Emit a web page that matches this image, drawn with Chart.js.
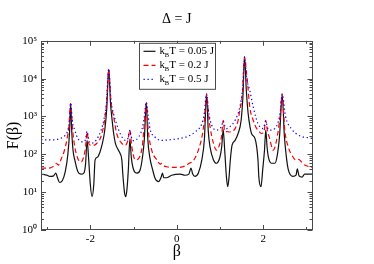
<!DOCTYPE html>
<html>
<head>
    <title>F(beta)</title>
    <script src="https://cdn.jsdelivr.net/npm/chart.js"></script>
    <style>
        html, body { margin: 0; padding: 0; background: #fff; }
        #wrap { width: 374px; height: 264px; }
    </style>
</head>
<body>
    <div id="wrap"><canvas id="fbeta"></canvas></div>

    <script>
        // Values
        var betaBlack = [-3.14, -3.00, -2.94, -2.85, -2.80, -2.76, -2.71, -2.65, -2.58, -2.52,
            -2.48, -2.455, -2.43, -2.40, -2.36, -2.29, -2.22, -2.15, -2.11, -2.075,
            -2.04, -2.00, -1.96, -1.92, -1.89, -1.83, -1.78, -1.73, -1.67, -1.62,
            -1.575, -1.53, -1.50, -1.46, -1.42, -1.35, -1.31, -1.27, -1.25, -1.21,
            -1.18, -1.15, -1.12, -1.085, -1.05, -0.98, -0.92, -0.85, -0.79, -0.75,
            -0.705, -0.67, -0.62, -0.56, -0.50, -0.42, -0.36, -0.33, -0.30, -0.24,
            -0.12, 0.08, 0.19, 0.28, 0.33, 0.37, 0.42, 0.50, 0.58, 0.64,
            0.69, 0.73, 0.77, 0.85, 0.92, 1.00, 1.04, 1.075, 1.11, 1.15,
            1.18, 1.21, 1.24, 1.28, 1.35, 1.42, 1.49, 1.53, 1.57, 1.61,
            1.65, 1.70, 1.73, 1.81, 1.85, 1.88, 1.90, 1.95, 1.99, 2.03,
            2.06, 2.09, 2.12, 2.19, 2.27, 2.33, 2.38, 2.44, 2.49, 2.53,
            2.58, 2.69, 2.76, 2.79, 2.83, 2.90, 2.96, 3.14];
        var fBlack = [30, 28, 26, 27, 32, 24, 18, 20, 35, 100,
            400, 2200, 400, 126, 71, 35, 30, 32, 56, 234,
            79, 16, 7.6, 16, 71, 85, 112, 178, 400, 1580,
            17400, 2000, 890, 355, 195, 129, 105, 71, 32, 10,
            7.6, 12.6, 40, 251, 79, 35, 32, 38, 89, 251,
            2290, 251, 79, 40, 23, 19, 25, 32, 24, 24,
            28, 30, 28, 30, 43, 30, 26, 32, 71, 251,
            3800, 400, 158, 71, 58, 85, 158, 447, 126, 25,
            14, 25, 71, 174, 234, 355, 794, 3160, 37000, 5000,
            1260, 500, 355, 263, 158, 71, 25, 14, 40, 126,
            437, 158, 85, 58, 58, 100, 316, 3800, 316, 100,
            40, 26, 28, 41, 27, 25, 30, 30];

        var betaRed = [-3.14, -3.00, -2.90, -2.84, -2.79, -2.74, -2.67, -2.60, -2.56, -2.50,
            -2.455, -2.41, -2.36, -2.29, -2.21, -2.15, -2.11, -2.075, -2.04, -2.00,
            -1.91, -1.84, -1.79, -1.72, -1.67, -1.62, -1.575, -1.53, -1.50, -1.46,
            -1.39, -1.27, -1.19, -1.13, -1.085, -1.04, -0.96, -0.88, -0.80, -0.75,
            -0.705, -0.66, -0.58, -0.46, -0.38, -0.35, -0.30, -0.23, 0.00, 0.19,
            0.30, 0.35, 0.42, 0.50, 0.58, 0.64, 0.69, 0.74, 0.77, 0.85,
            0.92, 1.00, 1.04, 1.075, 1.11, 1.15, 1.23, 1.35, 1.42, 1.46,
            1.52, 1.57, 1.61, 1.64, 1.69, 1.77, 1.84, 1.88, 1.96, 2.02,
            2.06, 2.10, 2.14, 2.23, 2.31, 2.39, 2.44, 2.50, 2.58, 2.69,
            2.76, 2.81, 2.96, 3.14];
        var fRed = [43, 43, 45, 50, 58, 52, 78, 126, 195, 500,
            2200, 447, 158, 78, 63, 89, 158, 389, 200, 174,
            174, 200, 234, 400, 794, 2500, 17400, 3160, 1580, 977,
            355, 195, 174, 234, 437, 158, 71, 78, 158, 631,
            2290, 437, 129, 71, 55, 58, 50, 47, 45, 49,
            59, 63, 79, 129, 282, 794, 3800, 1000, 537, 195,
            129, 195, 316, 794, 400, 400, 389, 479, 794, 1480,
            3980, 37000, 15800, 7400, 1780, 794, 500, 437, 355, 400,
            794, 400, 288, 129, 234, 977, 3800, 437, 158, 85,
            71, 74, 52, 45];

        var betaBlue = [-3.14, -3.00, -2.85, -2.70, -2.60, -2.52, -2.48, -2.455, -2.42, -2.36,
            -2.29, -2.17, -2.11, -2.075, -2.04, -1.98, -1.87, -1.75, -1.68, -1.63,
            -1.575, -1.52, -1.47, -1.42, -1.31, -1.19, -1.13, -1.085, -1.05, -1.00,
            -0.88, -0.80, -0.75, -0.705, -0.66, -0.62, -0.50, -0.35, -0.12, 0.08,
            0.27, 0.42, 0.58, 0.64, 0.69, 0.74, 0.81, 0.92, 1.00, 1.04,
            1.075, 1.11, 1.15, 1.23, 1.35, 1.46, 1.52, 1.57, 1.62, 1.69,
            1.77, 1.88, 2.00, 2.06, 2.10, 2.16, 2.27, 2.39, 2.44, 2.52,
            2.65, 2.81, 3.14];
        var fBlue = [245, 240, 240, 263, 302, 437, 794, 2290, 794, 437,
            263, 214, 251, 407, 251, 195, 234, 437, 891, 2000,
            18200, 2500, 1260, 794, 355, 234, 263, 437, 282, 229,
            288, 479, 1000, 2400, 1000, 479, 282, 234, 245, 263,
            302, 389, 646, 1260, 3980, 1260, 589, 437, 479, 562,
            759, 562, 479, 537, 794, 1780, 5000, 38000, 10000, 4900,
            1780, 646, 479, 759, 501, 437, 479, 1200, 3980, 977,
            479, 324, 263];

        var tempLabels = ['0.05 J', '0.2 J', '0.5 J'];
        var xTicks = [-2, 0, 2];
        var xMinorTicks = [-3, -1, 1, 3];
        var yTicks = [1, 10, 100, 1000, 10000, 100000];
        var yTickLabels = ['10\u2070', '10\u00b9', '10\u00b2', '10\u00b3', '10\u2074', '10\u2075'];

        var serif = 'Liberation Serif';

        function points(xs, ys) {
            return xs.map(function (b, i) { return { x: b, y: ys[i] }; });
        }

        // frame with inward ticks on all four sides (xmgrace style)
        var frameTicks = {
            id: 'frameTicks',
            afterDatasetsDraw: function (chart) {
                var ctx = chart.ctx, a = chart.chartArea;
                var xs = chart.scales.x, ys = chart.scales.y;
                ctx.save();
                ctx.strokeStyle = '#4a4a4a';
                ctx.lineWidth = 1;
                ctx.strokeRect(Math.round(a.left) + 0.5, Math.round(a.top) + 0.5,
                    Math.round(a.right - a.left) - 1, Math.round(a.bottom - a.top) - 1);
                ctx.beginPath();
                function xt(v, len) {
                    var p = Math.round(xs.getPixelForValue(v)) + 0.5;
                    ctx.moveTo(p, a.bottom); ctx.lineTo(p, a.bottom - len);
                    ctx.moveTo(p, a.top); ctx.lineTo(p, a.top + len);
                }
                function yt(v, len) {
                    var p = Math.round(ys.getPixelForValue(v)) + 0.5;
                    ctx.moveTo(a.left, p); ctx.lineTo(a.left + len, p);
                    ctx.moveTo(a.right, p); ctx.lineTo(a.right - len, p);
                }
                xTicks.forEach(function (v) { xt(v, 5); });
                xMinorTicks.forEach(function (v) { xt(v, 3); });
                yTicks.forEach(function (v, i) {
                    yt(v, 5);
                    if (i < yTicks.length - 1) {
                        for (var k = 2; k < 10; k++) yt(v * k, 3);
                    }
                });
                ctx.stroke();
                ctx.restore();
            }
        };

        // legend box with subscripted k_B
        var kbLegend = {
            id: 'kbLegend',
            afterDraw: function (chart) {
                var ctx = chart.ctx, a = chart.chartArea;
                var bx = a.left + 98.5, by = a.top + 2.5, bw = 76, bh = 46;
                ctx.save();
                ctx.fillStyle = '#fff';
                ctx.fillRect(bx, by, bw, bh);
                ctx.strokeStyle = '#4a4a4a';
                ctx.lineWidth = 1;
                ctx.strokeRect(bx, by, bw, bh);
                chart.data.datasets.forEach(function (ds, i) {
                    var yy = by + 8 + i * 14;
                    ctx.beginPath();
                    ctx.strokeStyle = ds.borderColor;
                    ctx.lineWidth = ds.borderWidth;
                    ctx.setLineDash(ds.borderDash || []);
                    ctx.moveTo(bx + 4, yy);
                    ctx.lineTo(bx + 16, yy);
                    ctx.stroke();
                    ctx.setLineDash([]);
                    ctx.fillStyle = '#000';
                    ctx.textBaseline = 'middle';
                    ctx.font = '11px "' + serif + '"';
                    var tx = bx + 20;
                    ctx.fillText('k', tx, yy);
                    tx += ctx.measureText('k').width - 0.3;
                    ctx.font = '6.5px "' + serif + '"';
                    ctx.fillText('B', tx, yy + 3.5);
                    tx += ctx.measureText('B').width + 0.3;
                    ctx.font = '11px "' + serif + '"';
                    ctx.fillText('T = ' + tempLabels[i], tx, yy);
                });
                ctx.restore();
            }
        };

        var canvas = document.getElementById('fbeta');

        var chart = new Chart(canvas, {
            type: 'line',
            data: {
                datasets: [
                    {
                        label: 'kBT = ' + tempLabels[0],
                        data: points(betaBlack, fBlack),
                        borderColor: '#111111',
                        borderWidth: 1.2,
                        order: 3
                    },
                    {
                        label: 'kBT = ' + tempLabels[1],
                        data: points(betaRed, fRed),
                        borderColor: '#ff0000',
                        borderWidth: 1.2,
                        borderDash: [5, 3],
                        order: 2
                    },
                    {
                        label: 'kBT = ' + tempLabels[2],
                        data: points(betaBlue, fBlue),
                        borderColor: '#0000ff',
                        borderWidth: 1.2,
                        borderDash: [1.3, 2.7],
                        order: 1
                    }
                ]
            },
            options: {
                responsive: true,
                maintainAspectRatio: false,
                animation: false,
                elements: {
                    point: { radius: 0 },
                    line: { cubicInterpolationMode: 'monotone', fill: false }
                },
                layout: { padding: { left: 0, right: 61.5, top: 0, bottom: 0 } },
                plugins: {
                    legend: { display: false },
                    tooltip: { enabled: false },
                    title: {
                        display: true,
                        text: '\u0394 = J',
                        fullSize: false,
                        color: '#000',
                        font: { family: serif, size: 14, weight: 'normal' },
                        padding: { top: 11, bottom: 13 }
                    }
                },
                scales: {
                    x: {
                        type: 'linear',
                        min: -Math.PI,
                        max: Math.PI,
                        grid: { display: false, drawTicks: false },
                        border: { display: false },
                        afterBuildTicks: function (s) {
                            s.ticks = xTicks.map(function (v) { return { value: v }; });
                        },
                        afterFit: function (s) { s.height = 34; },
                        ticks: {
                            color: '#000',
                            padding: 3,
                            maxRotation: 0,
                            font: { family: serif, size: 11 },
                            callback: function (v) { return String(v); }
                        },
                        title: {
                            display: true,
                            text: '\u03b2',
                            color: '#000',
                            font: { family: serif, size: 16 },
                            padding: { top: 0, bottom: 3 }
                        }
                    },
                    y: {
                        type: 'logarithmic',
                        min: 1,
                        max: 100000,
                        grid: { display: false, drawTicks: false },
                        border: { display: false },
                        afterBuildTicks: function (s) {
                            s.ticks = yTicks.map(function (v) { return { value: v }; });
                        },
                        afterFit: function (s) { s.width = 41; },
                        ticks: {
                            color: '#000',
                            padding: 4,
                            autoSkip: false,
                            font: { family: serif, size: 11 },
                            callback: function (v, i) { return yTickLabels[i]; }
                        },
                        title: {
                            display: true,
                            text: 'F(\u03b2)',
                            color: '#000',
                            font: { family: serif, size: 16 },
                            padding: { top: 4, bottom: 0 }
                        }
                    }
                }
            },
            plugins: [frameTicks, kbLegend]
        });
    </script>
</body>
</html>
